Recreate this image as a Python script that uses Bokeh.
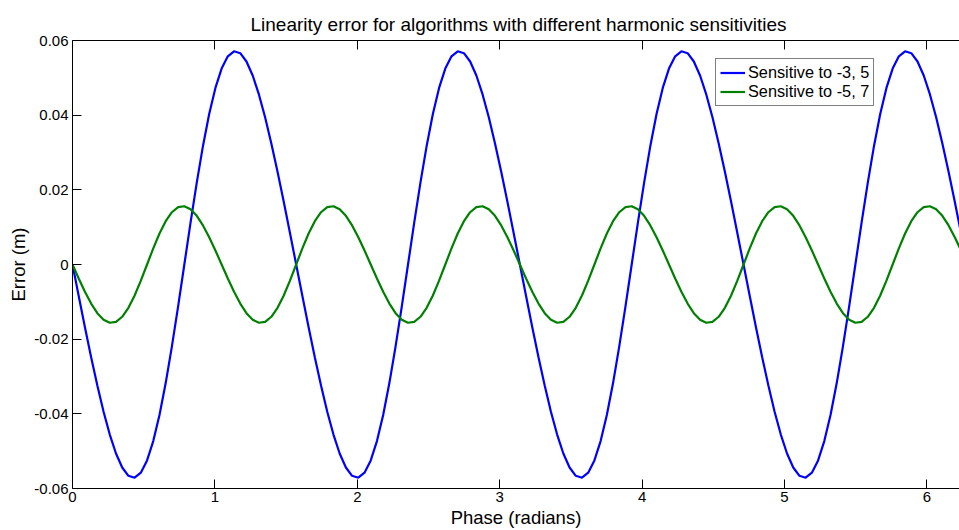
from bokeh.plotting import figure
from bokeh.models import (Range1d, LinearAxis, FixedTicker, CustomJSTickFormatter,
                          Legend, LegendItem, ColumnDataSource, CustomLabelingPolicy)
from bokeh.embed import file_html
from bokeh.resources import INLINE

title_text = "Linearity error for algorithms with different harmonic sensitivities"
x_label = "Phase (radians)"
y_label = "Error (m)"
series_names = ["Sensitive to -3, 5", "Sensitive to -5, 7"]
x_ticks = [0, 1, 2, 3, 4, 5, 6]
y_ticks = [-0.06, -0.04, -0.02, 0, 0.02, 0.04, 0.06]

phase = [
    0.0, 0.0436, 0.0873, 0.1309, 0.1745, 0.2182, 0.2618, 0.3054, 0.3491, 0.3927,
    0.4363, 0.4800, 0.5236, 0.5672, 0.6109, 0.6545, 0.6981, 0.7418, 0.7854, 0.8290,
    0.8727, 0.9163, 0.9599, 1.0036, 1.0472, 1.0908, 1.1345, 1.1781, 1.2217, 1.2654,
    1.3090, 1.3526, 1.3963, 1.4399, 1.4835, 1.5272, 1.5708, 1.6144, 1.6581, 1.7017,
    1.7453, 1.7890, 1.8326, 1.8762, 1.9199, 1.9635, 2.0071, 2.0508, 2.0944, 2.1380,
    2.1817, 2.2253, 2.2689, 2.3126, 2.3562, 2.3998, 2.4435, 2.4871, 2.5307, 2.5744,
    2.6180, 2.6616, 2.7053, 2.7489, 2.7925, 2.8362, 2.8798, 2.9234, 2.9671, 3.0107,
    3.0543, 3.0980, 3.1416, 3.1852, 3.2289, 3.2725, 3.3161, 3.3598, 3.4034, 3.4470,
    3.4907, 3.5343, 3.5779, 3.6216, 3.6652, 3.7088, 3.7525, 3.7961, 3.8397, 3.8834,
    3.9270, 3.9706, 4.0143, 4.0579, 4.1015, 4.1452, 4.1888, 4.2324, 4.2761, 4.3197,
    4.3633, 4.4070, 4.4506, 4.4942, 4.5379, 4.5815, 4.6251, 4.6688, 4.7124, 4.7560,
    4.7997, 4.8433, 4.8869, 4.9306, 4.9742, 5.0178, 5.0615, 5.1051, 5.1487, 5.1924,
    5.2360, 5.2796, 5.3233, 5.3669, 5.4105, 5.4542, 5.4978, 5.5414, 5.5851, 5.6287,
    5.6723, 5.7160, 5.7596, 5.8032, 5.8469, 5.8905, 5.9341, 5.9778, 6.0214, 6.0650,
    6.1087, 6.1523, 6.1959, 6.2396, 6.2832,
]

err_35 = [
    0.0, -0.00846, -0.01679, -0.02484, -0.03244, -0.03942, -0.04555, -0.05062, -0.05437, -0.0566,
    -0.05711, -0.05576, -0.05248, -0.0473, -0.04032, -0.03176, -0.02193, -0.0112, 0.0, 0.0112,
    0.02193, 0.03176, 0.04032, 0.0473, 0.05248, 0.05576, 0.05711, 0.0566, 0.05437, 0.05062,
    0.04555, 0.03942, 0.03244, 0.02484, 0.01679, 0.00846,
    0.0, -0.00846, -0.01679, -0.02484, -0.03244, -0.03942, -0.04555, -0.05062, -0.05437, -0.0566,
    -0.05711, -0.05576, -0.05248, -0.0473, -0.04032, -0.03176, -0.02193, -0.0112, 0.0, 0.0112,
    0.02193, 0.03176, 0.04032, 0.0473, 0.05248, 0.05576, 0.05711, 0.0566, 0.05437, 0.05062,
    0.04555, 0.03942, 0.03244, 0.02484, 0.01679, 0.00846,
    0.0, -0.00846, -0.01679, -0.02484, -0.03244, -0.03942, -0.04555, -0.05062, -0.05437, -0.0566,
    -0.05711, -0.05576, -0.05248, -0.0473, -0.04032, -0.03176, -0.02193, -0.0112, 0.0, 0.0112,
    0.02193, 0.03176, 0.04032, 0.0473, 0.05248, 0.05576, 0.05711, 0.0566, 0.05437, 0.05062,
    0.04555, 0.03942, 0.03244, 0.02484, 0.01679, 0.00846,
    0.0, -0.00846, -0.01679, -0.02484, -0.03244, -0.03942, -0.04555, -0.05062, -0.05437, -0.0566,
    -0.05711, -0.05576, -0.05248, -0.0473, -0.04032, -0.03176, -0.02193, -0.0112, 0.0, 0.0112,
    0.02193, 0.03176, 0.04032, 0.0473, 0.05248, 0.05576, 0.05711, 0.0566, 0.05437, 0.05062,
    0.04555, 0.03942, 0.03244, 0.02484, 0.01679, 0.00846,
    0.0,
]

err_57 = [
    0.0, -0.00376, -0.00732, -0.01047, -0.01303, -0.01479, -0.0156, -0.01535, -0.014, -0.01159,
    -0.00829, -0.00432, 0.0, 0.00432, 0.00829, 0.01159, 0.014, 0.01535, 0.0156, 0.01479,
    0.01303, 0.01047, 0.00732, 0.00376,
    0.0, -0.00376, -0.00732, -0.01047, -0.01303, -0.01479, -0.0156, -0.01535, -0.014, -0.01159,
    -0.00829, -0.00432, 0.0, 0.00432, 0.00829, 0.01159, 0.014, 0.01535, 0.0156, 0.01479,
    0.01303, 0.01047, 0.00732, 0.00376,
    0.0, -0.00376, -0.00732, -0.01047, -0.01303, -0.01479, -0.0156, -0.01535, -0.014, -0.01159,
    -0.00829, -0.00432, 0.0, 0.00432, 0.00829, 0.01159, 0.014, 0.01535, 0.0156, 0.01479,
    0.01303, 0.01047, 0.00732, 0.00376,
    0.0, -0.00376, -0.00732, -0.01047, -0.01303, -0.01479, -0.0156, -0.01535, -0.014, -0.01159,
    -0.00829, -0.00432, 0.0, 0.00432, 0.00829, 0.01159, 0.014, 0.01535, 0.0156, 0.01479,
    0.01303, 0.01047, 0.00732, 0.00376,
    0.0, -0.00376, -0.00732, -0.01047, -0.01303, -0.01479, -0.0156, -0.01535, -0.014, -0.01159,
    -0.00829, -0.00432, 0.0, 0.00432, 0.00829, 0.01159, 0.014, 0.01535, 0.0156, 0.01479,
    0.01303, 0.01047, 0.00732, 0.00376,
    0.0, -0.00376, -0.00732, -0.01047, -0.01303, -0.01479, -0.0156, -0.01535, -0.014, -0.01159,
    -0.00829, -0.00432, 0.0, 0.00432, 0.00829, 0.01159, 0.014, 0.01535, 0.0156, 0.01479,
    0.01303, 0.01047, 0.00732, 0.00376,
    0.0,
]

FONT = "Liberation Sans"

src = ColumnDataSource(data=dict(phase=phase, e35=err_35, e57=err_57))

p = figure(width=959, height=530, output_backend="svg", toolbar_location=None,
           x_range=Range1d(0, 6.229), y_range=Range1d(-0.06, 0.06),
           x_axis_location=None, y_axis_location=None,
           min_border_left=72, min_border_right=0, min_border_top=40, min_border_bottom=40)

p.background_fill_color = "white"
p.border_fill_color = "white"
p.outline_line_color = None
p.xgrid.visible = False
p.ygrid.visible = False


def style_axis(ax):
    ax.axis_line_color = "black"
    ax.axis_line_width = 1
    ax.major_tick_line_color = "black"
    ax.major_tick_in = 9
    ax.major_tick_out = 0
    ax.minor_tick_line_color = None
    ax.major_label_text_font = FONT
    ax.major_label_text_font_size = "15px"
    ax.major_label_text_color = "black"
    ax.axis_label_text_font = FONT
    ax.axis_label_text_font_size = "18.5px"
    ax.axis_label_text_font_style = "normal"
    ax.axis_label_text_color = "black"


xb = LinearAxis(ticker=FixedTicker(ticks=x_ticks), axis_label=x_label)
style_axis(xb)
xb.major_label_standoff = 3
xb.axis_label_standoff = 2
p.add_layout(xb, "below")

yl = LinearAxis(ticker=FixedTicker(ticks=y_ticks), axis_label=y_label,
                formatter=CustomJSTickFormatter(code="return tick === 0 ? '0' : tick.toFixed(2);"))
style_axis(yl)
yl.major_label_standoff = 4
yl.axis_label_standoff = 2
p.add_layout(yl, "left")

# top axis: tick marks only (MATLAB box style), no labels drawn
hide_labels = CustomLabelingPolicy(code="""
const ids = Array.from(indices.ones());
for (const i of ids) { indices.unset(i); }
return indices;
""")
xt = LinearAxis(ticker=FixedTicker(ticks=x_ticks), major_label_policy=hide_labels)
style_axis(xt)
xt.major_label_text_font_size = "0px"
xt.major_label_standoff = 0
p.add_layout(xt, "above")

p.title.text = title_text
p.title.align = "left"
p.title.offset = 178
p.title.text_font = FONT
p.title.text_font_size = "19px"
p.title.text_font_style = "normal"
p.title.text_color = "black"
p.title.standoff = 11

r1 = p.line("phase", "e35", source=src, line_color="#0000ff", line_width=2.2)
r2 = p.line("phase", "e57", source=src, line_color="#008000", line_width=2.2)

legend = Legend(items=[LegendItem(label=series_names[0], renderers=[r1]),
                       LegendItem(label=series_names[1], renderers=[r2])],
                location=(643, 382))
legend.border_line_color = "black"
legend.border_line_width = 1
legend.background_fill_color = "white"
legend.background_fill_alpha = 1
legend.padding = 4
legend.spacing = 0
legend.margin = 0
legend.glyph_width = 25
legend.glyph_height = 19
legend.label_height = 19
legend.label_standoff = 3
legend.label_text_font = FONT
legend.label_text_font_size = "16.3px"
legend.label_text_color = "black"
p.add_layout(legend)

open("out.html", "w").write(file_html(p, INLINE))
